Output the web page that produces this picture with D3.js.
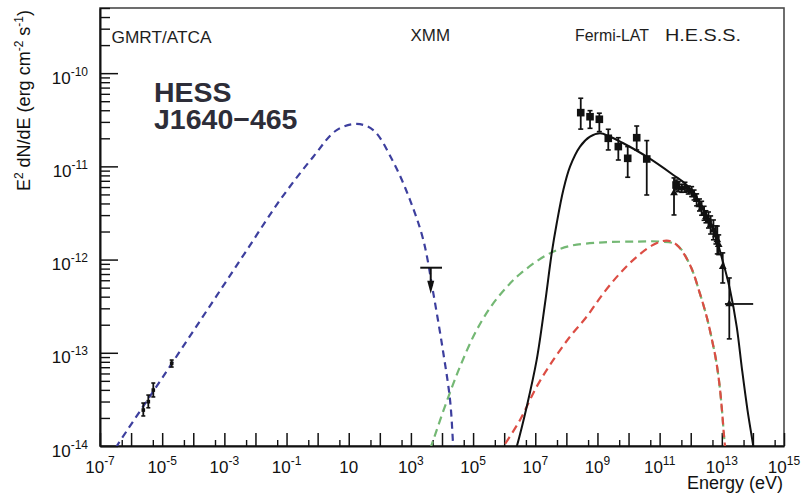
<!DOCTYPE html>
<html>
<head>
<meta charset="utf-8">
<script src="https://cdn.jsdelivr.net/npm/d3@7"></script>
<style>
  html, body { margin: 0; padding: 0; background: #fff; }
  svg { display: block; font-family: "Liberation Sans", Arial, Helvetica, sans-serif; }
</style>
</head>
<body>
<svg id="chart" width="802" height="493"></svg>
<script>
// ---- axis labels (decade exponents) ----
const xLabelExp = [-7, -5, -3, -1, 1, 3, 5, 7, 9, 11, 13, 15];
const yLabelExp = [-14, -13, -12, -11, -10];

// ---- model curves: energy (eV) and E^2 dN/dE (erg cm^-2 s^-1) ----
// synchrotron
const syncE = [2.0e-7, 3.47e-7, 1.40e-5, 4.41e-4, 5.25e-3, 6.17e-2, 0.726, 4.10, 18.1, 61.7, 269, 933, 2510, 5250, 1.10e4, 1.82e4, 2.29e4, 2.51e4];
const syncF = [7.48e-15, 1.0e-14, 6.35e-14, 3.61e-13, 1.26e-12, 4.35e-12, 1.27e-11, 2.45e-11, 2.85e-11, 2.45e-11, 1.12e-11, 4.37e-12, 1.62e-12, 4.37e-13, 1.0e-13, 3.09e-14, 1.0e-14, 6.3e-15];

// inverse Compton, two seed fields (share the same high-energy cutoff)
const icGreenE = [4.17e3, 5.25e3, 1.41e4, 3.80e4, 1.15e5, 3.50e5, 1.06e6, 3.23e6, 2.33e7, 1.31e8, 1.55e9, 1.82e10, 1.03e11];
const icGreenF = [9.33e-15, 1.16e-14, 2.99e-14, 7.10e-14, 1.62e-13, 3.03e-13, 4.84e-13, 7.00e-13, 1.12e-12, 1.40e-12, 1.53e-12, 1.56e-12, 1.56e-12];
const icRedE = [7.35e5, 9.38e5, 3.23e6, 1.11e7, 3.80e7, 1.31e8, 4.51e8, 1.55e9, 5.32e9, 1.83e10, 6.27e10, 1.69e11];
const icRedF = [8.63e-15, 9.82e-15, 1.90e-14, 4.33e-14, 8.38e-14, 1.49e-13, 2.44e-13, 4.35e-13, 7.13e-13, 1.07e-12, 1.44e-12, 1.60e-12];
const icTailE = [3.54e11, 9.48e11, 1.99e12, 3.34e12, 4.84e12, 6.50e12, 8.43e12, 1.01e13, 1.17e13, 1.32e13];
const icTailF = [1.44e-12, 8.75e-13, 4.28e-13, 2.36e-13, 1.37e-13, 8.38e-14, 4.52e-14, 2.43e-14, 1.31e-14, 8.63e-15];

// hadronic (pi0 decay)
const pionE = [2.25e6, 2.53e6, 5.31e6, 1.11e7, 2.06e7, 3.38e7, 4.90e7, 7.98e7, 1.31e8, 2.75e8, 5.77e8, 1.21e9, 2.54e9, 6.79e9, 3.85e10, 2.75e11, 7.38e11, 1.98e12, 5.32e12, 1.12e13, 1.84e13, 3.01e13, 4.47e13, 6.70e13, 1.03e14, 1.07e14];
const pionF = [8.63e-15, 9.82e-15, 2.64e-14, 8.38e-14, 3.40e-13, 1.17e-12, 2.45e-12, 5.58e-12, 9.93e-12, 1.63e-11, 2.08e-11, 2.26e-11, 2.08e-11, 1.77e-11, 1.27e-11, 8.09e-12, 6.31e-12, 4.02e-12, 2.08e-12, 9.12e-13, 4.72e-13, 1.91e-13, 6.61e-14, 2.43e-14, 9.82e-15, 8.71e-15];

// ---- measurements ----
const radioE  = [2.47e-6, 3.58e-6, 5.18e-6, 2.02e-5];
const radioF  = [2.43e-14, 2.99e-14, 3.98e-14, 7.71e-14];
const radioHi = [2.89e-14, 3.52e-14, 4.74e-14, 8.36e-14];
const radioLo = [2.10e-14, 2.57e-14, 3.36e-14, 7.03e-14];

const xmmE = 4.34e3, xmmELo = 2.0e3, xmmEHi = 1.0e4, xmmUL = 8.18e-13;

const fermiE  = [2.90e8, 5.77e8, 1.15e9, 2.23e9, 4.69e9, 9.40e9, 1.83e10, 3.85e10, 3.37e11];
const fermiF  = [3.77e-11, 3.41e-11, 3.20e-11, 2.00e-11, 1.63e-11, 1.22e-11, 2.03e-11, 1.20e-11, 6.31e-12];
const fermiHi = [5.38e-11, 3.96e-11, 3.72e-11, 2.50e-11, 2.03e-11, 1.63e-11, 2.71e-11, 1.89e-11, 7.13e-12];
const fermiLo = [2.51e-11, 2.56e-11, 2.36e-11, 1.50e-11, 1.17e-11, 7.64e-12, 1.50e-11, 4.93e-12, 5.58e-12];

const hessE  = [2.90e11, 3.98e11, 5.13e11, 6.53e11, 8.32e11, 1.07e12, 1.28e12, 1.55e12, 1.91e12, 2.24e12, 2.69e12, 3.09e12, 3.72e12, 4.37e12, 5.37e12, 6.46e12, 7.16e12, 7.94e12, 1.07e13, 1.74e13];
const hessF  = [5.19e-12, 6.05e-12, 5.82e-12, 5.97e-12, 5.58e-12, 5.36e-12, 4.93e-12, 4.37e-12, 3.85e-12, 3.55e-12, 3.14e-12, 2.88e-12, 2.66e-12, 2.35e-12, 2.08e-12, 1.84e-12, 1.62e-12, 1.44e-12, 8.39e-13, 3.34e-13];
const hessHi = [7.52e-12, 6.84e-12, 6.43e-12, 6.75e-12, 6.16e-12, 6.06e-12, 5.57e-12, 5.07e-12, 4.47e-12, 4.22e-12, 3.73e-12, 3.34e-12, 3.24e-12, 2.94e-12, 2.66e-12, 2.30e-12, 2.29e-12, 1.84e-12, 1.18e-12, 6.35e-13];
const hessLo = [3.01e-12, 5.35e-12, 5.27e-12, 5.28e-12, 5.05e-12, 4.74e-12, 4.36e-12, 3.77e-12, 3.32e-12, 2.99e-12, 2.64e-12, 2.48e-12, 2.18e-12, 1.88e-12, 1.63e-12, 1.47e-12, 1.15e-12, 1.13e-12, 5.61e-13, 1.41e-13];
const hessLastBinLo = 1.26e13, hessLastBinHi = 1.02e14;

// ---- layout ----
const W = 802, H = 493;
const plot = { left: 100, right: 784, top: 8, bottom: 446 };

const svg = d3.select("#chart");
svg.append("rect").attr("width", W).attr("height", H).attr("fill", "#fff");

const x = d3.scaleLog().domain([1e-7, 1e15]).range([plot.left, plot.right]);
const y = d3.scaleLog().domain([1e-14, 5e-10]).range([plot.bottom, plot.top]);

svg.append("clipPath").attr("id", "plotClip")
  .append("rect")
  .attr("x", plot.left).attr("y", plot.top)
  .attr("width", plot.right - plot.left).attr("height", plot.bottom - plot.top);

// frame
svg.append("rect")
  .attr("x", plot.left).attr("y", plot.top)
  .attr("width", plot.right - plot.left).attr("height", plot.bottom - plot.top)
  .attr("fill", "none").attr("stroke", "#4a4a4a").attr("stroke-width", 1.6);

// ---- axes (ticks drawn inside the frame) ----
const xMajor = d3.range(-7, 16).map(e => Math.pow(10, e));
const xMinor = d3.range(-7, 15).map(e => 5 * Math.pow(10, e));
const yMajor = d3.range(-14, -9).map(e => Math.pow(10, e));
const yMinor = [];
d3.range(-14, -9).forEach(e => d3.range(2, 10).forEach(k => {
  const v = k * Math.pow(10, e);
  if (v <= 5e-10) yMinor.push(v);
}));

function styleAxis(g, width) {
  g.selectAll(".tick line").attr("stroke", "#111").attr("stroke-width", 1.5);
  g.select(".domain").attr("stroke", "#111").attr("stroke-width", width);
}

const gxMinor = svg.append("g").attr("transform", `translate(0,${plot.bottom})`)
  .call(d3.axisBottom(x).tickValues(xMinor).tickSizeInner(-6).tickSizeOuter(0).tickFormat(() => ""));
gxMinor.select(".domain").remove();
gxMinor.selectAll(".tick line").attr("stroke", "#111").attr("stroke-width", 1.4);

const gx = svg.append("g").attr("transform", `translate(0,${plot.bottom})`)
  .call(d3.axisBottom(x).tickValues(xMajor).tickSizeInner(-13).tickSizeOuter(0).tickFormat(() => ""));
styleAxis(gx, 2);

const gyMinor = svg.append("g").attr("transform", `translate(${plot.left},0)`)
  .call(d3.axisLeft(y).tickValues(yMinor).tickSizeInner(-10).tickSizeOuter(0).tickFormat(() => ""));
gyMinor.select(".domain").remove();
gyMinor.selectAll(".tick line").attr("stroke", "#111").attr("stroke-width", 1.4);

const gy = svg.append("g").attr("transform", `translate(${plot.left},0)`)
  .call(d3.axisLeft(y).tickValues(yMajor).tickSizeInner(-18).tickSizeOuter(0).tickFormat(() => ""));
styleAxis(gy, 2);

// tick labels as 10 with superscript exponent
const xl = svg.append("g").attr("fill", "#111").attr("font-size", 17).attr("text-anchor", "middle");
xLabelExp.forEach(e => {
  const t = xl.append("text").attr("x", x(Math.pow(10, e))).attr("y", 472.5);
  t.append("tspan").text("10");
  if (e !== 1) t.append("tspan").attr("font-size", 12).attr("dy", -8).text(e < 0 ? "-" + (-e) : String(e));
});

const yl = svg.append("g").attr("fill", "#111").attr("font-size", 17).attr("text-anchor", "end");
yLabelExp.forEach(e => {
  const t = yl.append("text").attr("x", 88).attr("y", y(Math.pow(10, e)) + 10.5);
  t.append("tspan").text("10");
  t.append("tspan").attr("font-size", 12).attr("dy", -8).text("-" + (-e));
});

// axis titles
svg.append("text").attr("x", 783).attr("y", 489).attr("text-anchor", "end")
  .attr("font-size", 18).attr("fill", "#111").text("Energy (eV)");

const yt = svg.append("text").attr("transform", "translate(29.5,10) rotate(-90)")
  .attr("text-anchor", "end").attr("font-size", 18).attr("fill", "#111");
yt.append("tspan").text("E");
yt.append("tspan").attr("font-size", 12).attr("dy", -7).text("2");
yt.append("tspan").attr("dy", 7).text(" dN/dE (erg cm");
yt.append("tspan").attr("font-size", 12).attr("dy", -7).text("-2");
yt.append("tspan").attr("dy", 7).text(" s");
yt.append("tspan").attr("font-size", 12).attr("dy", -7).text("-1");
yt.append("tspan").attr("dy", 7).text(")");

// ---- model curves ----
const zip = (a, b) => a.map((v, i) => [v, b[i]]);
const line = d3.line().x(d => x(d[0])).y(d => y(d[1])).curve(d3.curveCatmullRom.alpha(0.5));
const curves = svg.append("g").attr("clip-path", "url(#plotClip)").attr("fill", "none");

curves.append("path").datum(zip(icGreenE.concat(icTailE), icGreenF.concat(icTailF)))
  .attr("d", line).attr("stroke", "#74b874").attr("stroke-width", 2.2).attr("stroke-dasharray", "8,5");
curves.append("path").datum(zip(icRedE.concat(icTailE), icRedF.concat(icTailF)))
  .attr("d", line).attr("stroke", "#dc4d44").attr("stroke-width", 2.2).attr("stroke-dasharray", "8,5").attr("stroke-dashoffset", 3);
curves.append("path").datum(zip(syncE, syncF))
  .attr("d", line).attr("stroke", "#3d3f9e").attr("stroke-width", 2.2).attr("stroke-dasharray", "7,5");
curves.append("path").datum(zip(pionE, pionF))
  .attr("d", line).attr("stroke", "#111").attr("stroke-width", 2);

// ---- data points with error bars ----
const pts = svg.append("g").attr("stroke", "#111").attr("fill", "#111");

function errorBars(E, F, hi, lo, cap) {
  E.forEach((e, i) => {
    const cx = x(e);
    pts.append("line").attr("x1", cx).attr("x2", cx).attr("y1", y(hi[i])).attr("y2", y(lo[i])).attr("stroke-width", 1.8);
    [hi[i], lo[i]].forEach(v => pts.append("line")
      .attr("x1", cx - cap).attr("x2", cx + cap).attr("y1", y(v)).attr("y2", y(v)).attr("stroke-width", 1.6));
  });
}

// radio
errorBars(radioE, radioF, radioHi, radioLo, 2);
radioE.forEach((e, i) => pts.append("rect")
  .attr("x", x(e) - 1.8).attr("y", y(radioF[i]) - 1.8).attr("width", 3.6).attr("height", 3.6).attr("stroke", "none"));

// XMM upper limit
{
  const cx = x(xmmE), cy = y(xmmUL);
  pts.append("line").attr("x1", x(xmmELo)).attr("x2", x(xmmEHi)).attr("y1", cy).attr("y2", cy).attr("stroke-width", 2);
  pts.append("line").attr("x1", cx).attr("x2", cx).attr("y1", cy).attr("y2", cy + 16).attr("stroke-width", 2);
  pts.append("path").attr("stroke", "none")
    .attr("d", `M${cx - 3.5},${cy + 13} L${cx + 3.5},${cy + 13} L${cx},${cy + 26} Z`);
}

// Fermi-LAT
errorBars(fermiE, fermiF, fermiHi, fermiLo, 2.5);
fermiE.forEach((e, i) => pts.append("rect")
  .attr("x", x(e) - 3.8).attr("y", y(fermiF[i]) - 3.8).attr("width", 7.6).attr("height", 7.6).attr("stroke", "none"));

// H.E.S.S.
errorBars(hessE, hessF, hessHi, hessLo, 2.5);
{
  const last = hessE.length - 1, cy = y(hessF[last]);
  pts.append("line").attr("x1", x(hessLastBinLo)).attr("x2", x(hessLastBinHi)).attr("y1", cy).attr("y2", cy).attr("stroke-width", 1.8);
}
const tri = d3.symbol().type(d3.symbolTriangle).size(26);
hessE.forEach((e, i) => pts.append("path")
  .attr("transform", `translate(${x(e)},${y(hessF[i])})`).attr("d", tri()).attr("stroke", "none"));

// ---- annotations ----
const ann = svg.append("g").attr("fill", "#1e1e1e").attr("font-size", 16.5);
ann.append("text").attr("x", 111.5).attr("y", 43).attr("textLength", 100).attr("lengthAdjust", "spacingAndGlyphs").text("GMRT/ATCA");
ann.append("text").attr("x", 410.5).attr("y", 41).attr("textLength", 39.5).attr("lengthAdjust", "spacingAndGlyphs").text("XMM");
ann.append("text").attr("x", 575).attr("y", 41).attr("textLength", 74).attr("lengthAdjust", "spacingAndGlyphs").text("Fermi-LAT");
ann.append("text").attr("x", 665).attr("y", 41).attr("textLength", 76).attr("lengthAdjust", "spacingAndGlyphs").text("H.E.S.S.");

const src = svg.append("g").attr("fill", "#2d2d38").attr("font-size", 28.5).attr("font-weight", "bold");
src.append("text").attr("x", 154).attr("y", 101.5).text("HESS");
src.append("text").attr("x", 154).attr("y", 128.5).text("J1640\u2212465");
</script>
</body>
</html>
